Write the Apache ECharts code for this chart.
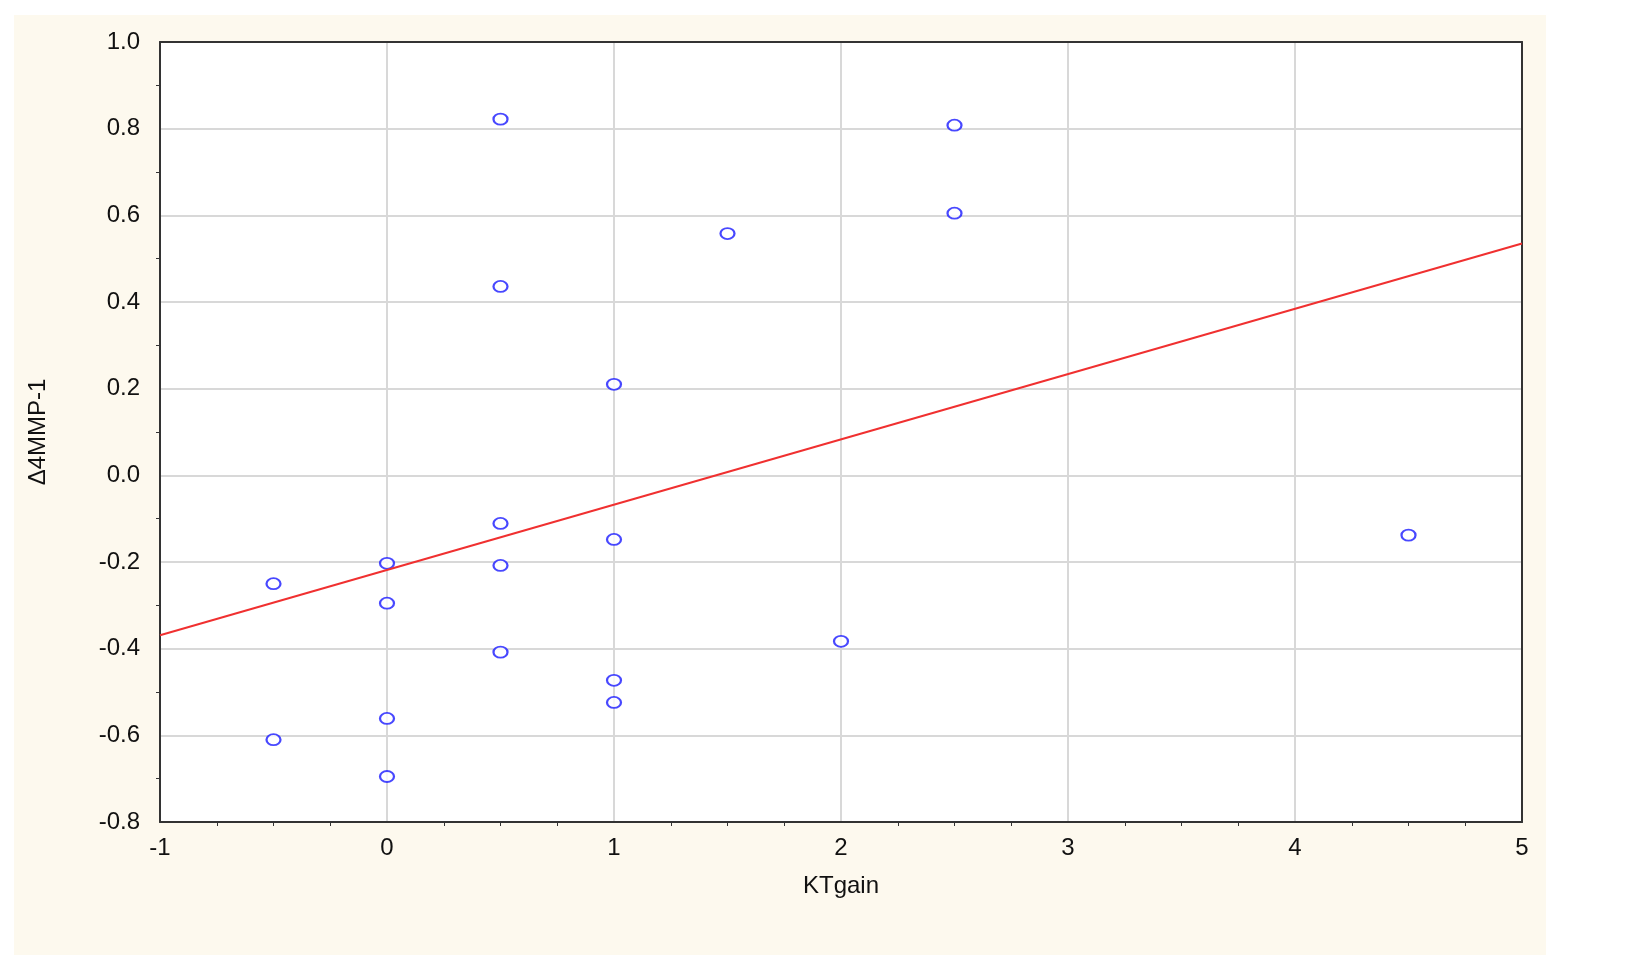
<!DOCTYPE html>
<html><head><meta charset="utf-8">
<script src="https://cdn.jsdelivr.net/npm/echarts@6/dist/echarts.min.js"></script>
<style>html,body{margin:0;background:#fff}#c{width:1636px;height:967px}</style>
</head><body><div id="c"></div>
<script>
const xValues=[-0.5,-0.5,0,0,0,0,0.5,0.5,0.5,0.5,0.5,1,1,1,1,1.5,2,2.5,2.5,4.5];
const yValues=[-0.25,-0.61,-0.203,-0.295,-0.561,-0.695,0.822,0.436,-0.111,-0.208,-0.408,0.21,-0.148,-0.473,-0.524,0.558,-0.383,0.808,0.605,-0.138];
const fitX=[-1,5];
const fitY=[-0.369,0.535];
const xTitle='KTgain', yTitle='Δ4MMP-1';
const chart=echarts.init(document.getElementById('c'));
const ax={color:'#111',fontFamily:'Liberation Sans, Arial',fontSize:24};
const line={onZero:false,lineStyle:{color:'#333',width:2}};
chart.setOption({
 backgroundColor:'#fff',
 graphic:[{type:'rect',shape:{x:14,y:15,width:1532,height:940},style:{fill:'#fdf9ee'},z:-10}],
 grid:{left:160,right:114,top:42,bottom:145,backgroundColor:'#fff',show:true,borderWidth:0},
 xAxis:[{type:'value',min:-1,max:5,interval:1,name:xTitle,nameLocation:'middle',nameGap:52,nameTextStyle:ax,
  axisLabel:Object.assign({margin:14},ax),axisLine:line,axisTick:{show:false},
  minorTick:{show:true,splitNumber:4,length:4,lineStyle:{color:'#333'}},
  splitLine:{lineStyle:{color:'#d8d8d8',width:2}}},
  {type:'value',position:'top',min:-1,max:5,interval:1,axisLine:line,axisLabel:{show:false},axisTick:{show:false},splitLine:{show:false}}],
 yAxis:[{type:'value',min:-0.8,max:1.0,interval:0.2,name:yTitle,nameLocation:'middle',nameGap:110,nameTextStyle:ax,
  axisLabel:Object.assign({margin:20,formatter:v=>v.toFixed(1)},ax),axisLine:line,axisTick:{show:false},
  minorTick:{show:true,splitNumber:2,length:4,lineStyle:{color:'#333'}},
  splitLine:{lineStyle:{color:'#d8d8d8',width:2}}},
  {type:'value',position:'right',min:-0.8,max:1.0,interval:0.2,axisLine:line,axisLabel:{show:false},axisTick:{show:false},splitLine:{show:false}}],
 series:[
  {type:'line',data:fitX.map((x,i)=>[x,fitY[i]]),symbol:'none',lineStyle:{color:'#f03030',width:2},silent:true},
  {type:'scatter',data:xValues.map((x,i)=>[x,yValues[i]]),symbol:'circle',symbolSize:[14,11],
   itemStyle:{color:'#fff',borderColor:'#1a1aff',borderWidth:2}}
 ]
});
</script></body></html>
